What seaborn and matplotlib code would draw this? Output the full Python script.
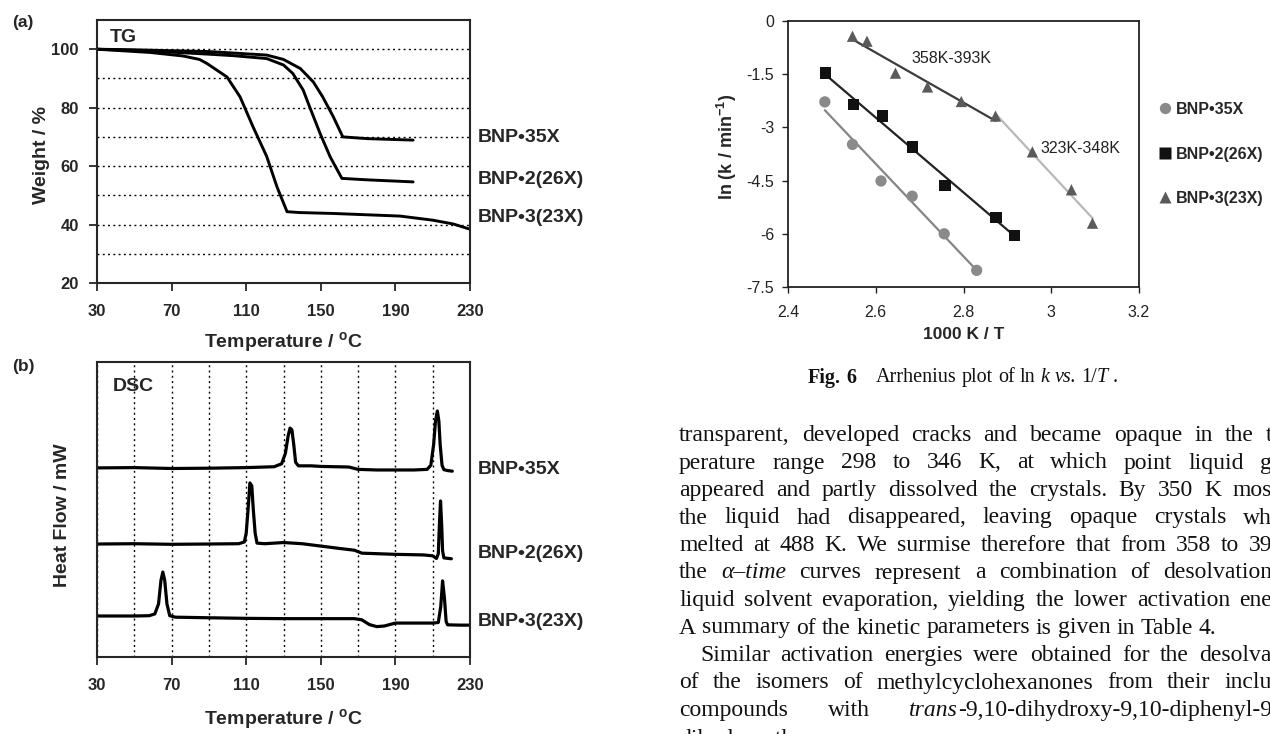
import matplotlib
matplotlib.use('Agg')
import matplotlib.pyplot as plt
import seaborn as sns
import pandas as pd
import numpy as np

W, H = 1270, 734

# ---------------- TG data (temperature / °C, weight / %)
tg_35x_t = [30, 50, 70, 90, 103, 121, 130, 139, 146, 151, 156.7, 161.8, 175, 199.5]
tg_35x_w = [100, 99.8, 99.5, 99.2, 98.7, 98.0, 96.5, 93.4, 88.8, 83.7, 76.9, 70.0, 69.4, 68.9]

tg_26x_t = [30, 50, 70, 90, 103, 121, 130, 135, 140.5, 144, 149.6, 155, 161.3, 175, 199.5]
tg_26x_w = [100, 99.6, 99.0, 98.3, 97.8, 96.8, 94.6, 91.7, 86.1, 80.3, 71.2, 63.2, 55.8, 55.3, 54.6]

tg_23x_t = [30, 58.4, 76, 85, 89, 99.7, 106.7, 113.7, 121, 126.5, 131.9, 138.8, 156.5, 192.5, 210, 221, 229.5]
tg_23x_w = [100, 98.9, 97.7, 96.5, 95.1, 90.5, 83.7, 73.4, 63.3, 52.9, 44.4, 44.1, 43.8, 42.9, 41.5, 40.2, 38.5]

# ---------------- DSC data (temperature / °C, heat flow, arbitrary offset units)
dsc_35x_t = [30, 50, 70, 90, 110, 125, 129, 131, 132.5, 133.5, 134.5, 135.5, 136.5, 138, 145, 150, 165,
             170, 180, 200, 207, 209, 210.5, 211.5, 212.5, 213.3, 214, 215, 216, 218, 220.5]
dsc_35x_h = [64.1, 64.2, 63.9, 64.0, 64.2, 64.5, 65.5, 69, 75, 77.6, 77, 72, 66, 64.8, 64.8, 64.6, 64.4,
             63.6, 63.4, 63.4, 63.6, 65, 72, 80, 83.4, 80, 72, 65, 63.5, 63.2, 63.0]

dsc_26x_t = [30, 50, 70, 90, 106, 109, 110, 111, 112, 113, 113.8, 114.8, 115.8, 120, 130, 140, 150, 160,
             168, 172, 190, 205, 210, 212, 213, 213.6, 214.2, 214.8, 215.3, 216, 220]
dsc_26x_h = [38.3, 38.4, 38.2, 38.3, 38.4, 39, 42, 50, 59, 58, 50, 42, 38.6, 38.4, 38.8, 38.4, 37.6, 36.8,
             36.2, 35.2, 34.8, 34.6, 34.3, 33.4, 35, 45, 52.9, 45, 36, 33.6, 33.3]

dsc_23x_t = [30, 50, 58, 61, 63, 64.3, 65.3, 66.3, 67.5, 69, 72, 90, 110, 130, 150, 168, 172, 176, 180,
             184, 187, 190, 200, 210, 213, 214.3, 215.3, 216.3, 217.2, 218, 225, 230]
dsc_23x_h = [13.9, 13.9, 14.0, 14.6, 18, 26, 28.8, 26, 18, 14, 13.5, 13.3, 13.1, 13.0, 13.0, 13.0, 12.6,
             11.0, 10.3, 10.5, 11.0, 11.5, 11.5, 11.5, 11.7, 17, 25.8, 20, 12, 10.9, 10.8, 10.8]

samples = ['BNP•35X', 'BNP•2(26X)', 'BNP•3(23X)']

# ---------------- Arrhenius data (1000/T, ln k)
arr_35x_x = [2.484, 2.547, 2.612, 2.683, 2.756, 2.830]
arr_35x_y = [-2.28, -3.48, -4.51, -4.94, -6.00, -7.03]
arr_26x_x = [2.486, 2.550, 2.615, 2.684, 2.758, 2.874, 2.917]
arr_26x_y = [-1.47, -2.36, -2.68, -3.55, -4.63, -5.55, -6.04]
arr_23x_x = [2.547, 2.580, 2.645, 2.718, 2.795, 2.873, 2.957, 3.046, 3.094]
arr_23x_y = [-0.43, -0.57, -1.47, -1.86, -2.27, -2.68, -3.69, -4.76, -5.70]

body_lines = [
    "transparent, developed cracks and became opaque in the t",
    "perature range 298 to 346 K, at which point liquid g",
    "appeared and partly dissolved the crystals. By 350 K mos",
    "the liquid had disappeared, leaving opaque crystals wh",
    "melted at 488 K. We surmise therefore that from 358 to 39",
    "the _α–time_ curves represent a combination of desolvation",
    "liquid solvent evaporation, yielding the lower activation ene",
    "A summary of the kinetic parameters is given in Table 4.",
    "Similar activation energies were obtained for the desolva",
    "of the isomers of methylcyclohexanones from their inclu",
    "compounds with _trans_-9,10-dihydroxy-9,10-diphenyl-9",
]

sns.set_style("ticks")
plt.rcParams['font.family'] = ['Liberation Sans', 'DejaVu Sans']
plt.rcParams['mathtext.fontset'] = 'custom'
plt.rcParams['mathtext.rm'] = 'Liberation Sans:bold'
plt.rcParams['mathtext.bf'] = 'Liberation Sans:bold'
plt.rcParams['mathtext.it'] = 'Liberation Sans:italic'

fig = plt.figure(figsize=(W / 100, H / 100), dpi=100)


def fx(x):
    return x / W


def fy(y):
    return 1 - y / H


def px_axes(x0, y0, x1, y1):
    return fig.add_axes([x0 / W, 1 - y1 / H, (x1 - x0) / W, (y1 - y0) / H])


def bold_ticks(ax):
    for lab in ax.get_xticklabels() + ax.get_yticklabels():
        lab.set_fontweight('bold')


dots = (0, (1.4, 2.4))

# ================= (a) TG
ax1 = px_axes(97, 20, 470, 283)
tg = [(tg_35x_t, tg_35x_w), (tg_26x_t, tg_26x_w), (tg_23x_t, tg_23x_w)]
for (t, w), name in zip(tg, samples):
    d = pd.DataFrame({'T': t, 'W': w})
    sns.lineplot(data=d, x='T', y='W', color='black', lw=2.1, estimator=None, sort=False, ax=ax1)
ax1.set_xlim(30, 230)
ax1.set_ylim(20, 110)
ax1.set_xticks([30, 70, 110, 150, 190, 230])
ax1.set_yticks([20, 40, 60, 80, 100])
ax1.set_yticks(np.arange(30, 101, 10), minor=True)
ax1.grid(axis='y', which='both', color='black', lw=1.0, ls=dots)
ax1.tick_params(which='minor', length=0)
ax1.tick_params(which='major', direction='out', length=6, width=1.3, labelsize=12, pad=7)
ax1.tick_params(axis='x', pad=9)
bold_ticks(ax1)
for s in ax1.spines.values():
    s.set_visible(True)
    s.set_linewidth(1.5)
ax1.set_xlabel(r'Temperature / $^{\mathregular{o}}$C', fontsize=14, fontweight='bold')
ax1.set_ylabel('Weight / %', fontsize=14, fontweight='bold')
ax1.xaxis.set_label_coords(0.5, -0.178)
ax1.yaxis.set_label_coords(-0.126, 0.487)
fig.text(fx(110), fy(37), 'TG', fontsize=14, fontweight='bold', va='center')
fig.text(fx(12), fy(23), '(a)', fontsize=12.5, fontweight='bold', va='center')
for name, y in zip(samples, [137, 179, 218]):
    fig.text(fx(478), fy(y), name, fontsize=14, fontweight='bold', va='center')

# ================= (b) DSC
ax2 = px_axes(97, 362, 470, 657)
dsc = [(dsc_35x_t, dsc_35x_h), (dsc_26x_t, dsc_26x_h), (dsc_23x_t, dsc_23x_h)]
for (t, h), name in zip(dsc, samples):
    d = pd.DataFrame({'T': t, 'HF': h})
    sns.lineplot(data=d, x='T', y='HF', color='black', lw=2.3, estimator=None, sort=False, ax=ax2)
ax2.set_xlim(30, 230)
ax2.set_ylim(0, 100)
ax2.set_xticks([30, 70, 110, 150, 190, 230])
ax2.set_xticks(np.arange(50, 211, 20), minor=True)
ax2.set_yticks([])
ax2.grid(axis='x', which='both', color='black', lw=1.0, ls=dots)
ax2.tick_params(which='minor', length=0)
ax2.tick_params(which='major', direction='out', length=6, width=1.3, labelsize=12, pad=9)
bold_ticks(ax2)
for s in ax2.spines.values():
    s.set_visible(True)
    s.set_linewidth(1.5)
ax2.set_xlabel(r'Temperature / $^{\mathregular{o}}$C', fontsize=14, fontweight='bold')
ax2.set_ylabel('Heat Flow / mW', fontsize=14, fontweight='bold')
ax2.xaxis.set_label_coords(0.5, -0.17)
ax2.yaxis.set_label_coords(-0.07, 0.48)
fig.text(fx(113), fy(387), 'DSC', fontsize=14, fontweight='bold', va='center')
fig.text(fx(12), fy(367), '(b)', fontsize=12.5, fontweight='bold', va='center')
for name, y in zip(samples, [470, 553, 621]):
    fig.text(fx(478), fy(y), name, fontsize=14, fontweight='bold', va='center')

# ================= Fig. 6 Arrhenius
ax3 = px_axes(788, 21, 1139, 287)
arr = pd.concat([
    pd.DataFrame({'x': arr_35x_x, 'y': arr_35x_y, 'sample': samples[0]}),
    pd.DataFrame({'x': arr_26x_x, 'y': arr_26x_y, 'sample': samples[1]}),
    pd.DataFrame({'x': arr_23x_x, 'y': arr_23x_y, 'sample': samples[2]}),
])
pal = {samples[0]: '#8a8a8a', samples[1]: '#111111', samples[2]: '#5a5a5a'}
sns.scatterplot(data=arr, x='x', y='y', hue='sample', style='sample',
                markers={samples[0]: 'o', samples[1]: 's', samples[2]: '^'},
                palette=pal, s=66, edgecolor='none', ax=ax3, zorder=3)

fits = [
    (arr[arr['sample'] == samples[0]], '#858585'),
    (arr[arr['sample'] == samples[1]], '#222222'),
    (arr[(arr['sample'] == samples[2]) & (arr['x'] <= 2.88)], '#3c3c3c'),
    (arr[(arr['sample'] == samples[2]) & (arr['x'] >= 2.87)], '#b8b8b8'),
]
for d, c in fits:
    sns.regplot(data=d, x='x', y='y', scatter=False, ci=None, truncate=True,
                color=c, line_kws={'lw': 1.6}, ax=ax3)

ax3.set_xlim(2.4, 3.2)
ax3.set_ylim(-7.5, 0)
ax3.set_xticks([2.4, 2.6, 2.8, 3.0, 3.2])
ax3.set_xticklabels(['2.4', '2.6', '2.8', '3', '3.2'])
ax3.set_yticks([0, -1.5, -3, -4.5, -6, -7.5])
ax3.set_yticklabels(['0', '-1.5', '-3', '-4.5', '-6', '-7.5'])
ax3.tick_params(direction='out', length=4, width=1.0, labelsize=11.5, colors='#222222')
ax3.tick_params(axis='x', pad=9)
ax3.tick_params(axis='y', pad=6)
for s in ax3.spines.values():
    s.set_visible(True)
    s.set_linewidth(1.3)
    s.set_color('#222222')
ax3.set_xlabel('1000 K / T', fontsize=12.5, fontweight='bold')
ax3.set_ylabel(r'ln (k / min$^{-1}$)', fontsize=13, fontweight='bold')
ax3.xaxis.set_label_coords(0.5, -0.15)
ax3.yaxis.set_label_coords(-0.14, 0.526)
ax3.text(2.681, -1.06, '358K-393K', fontsize=11.5, color='#222222', va='center')
ax3.text(2.975, -3.6, '323K-348K', fontsize=11.5, color='#222222', va='center')

sns.move_legend(ax3, 'center left', bbox_to_anchor=(1.035, 0.5), frameon=False, title=None,
                handlelength=0.7, handletextpad=0.35, labelspacing=1.85, borderpad=0,
                fontsize=11.5)
for t in ax3.get_legend().get_texts():
    t.set_fontweight('bold')

# ================= caption and body text
renderer = fig.canvas.get_renderer()
SERIF = 'Liberation Serif'


def parse(line, base=''):
    words = []
    for w in line.split():
        segs = []
        for k, part in enumerate(w.split('_')):
            if part:
                segs.append((part, base + ('i' if k % 2 else '')))
        words.append(segs)
    return words


def put_words(words, x0, y, x1=None, size=17):
    pieces, widths = [], []
    for word in words:
        segs, w = [], 0
        for txt, st in word:
            t = fig.text(0, fy(y), txt, fontsize=size, family=SERIF, color='#111111',
                         style='italic' if 'i' in st else 'normal',
                         weight='bold' if 'b' in st else 'normal', va='center_baseline')
            segs.append((t, w))
            w += t.get_window_extent(renderer).width
        pieces.append(segs)
        widths.append(w)
    if x1 is None or len(words) < 2:
        gap = 0.25 * size * 100 / 72
    else:
        gap = (x1 - x0 - sum(widths)) / (len(words) - 1)
    x = x0
    for segs, w in zip(pieces, widths):
        for t, off in segs:
            t.set_x(fx(x + off))
        x += w + gap
    return x


put_words(parse('Fig. 6', 'b'), 808, 375, size=14.5)
put_words(parse('Arrhenius plot of ln _k_ _vs._ 1/_T_ .'), 876, 375, size=14.5)

y = 433
for i, line in enumerate(body_lines):
    x0 = 700 if line.startswith('Similar') else 679
    x1 = None if line.startswith('A summary') else 1272
    put_words(parse(line), x0, y, x1)
    y += 27.5
put_words(parse('dihydroanthracene.'), 679, 737)

fig.savefig('out.png', dpi=100)
